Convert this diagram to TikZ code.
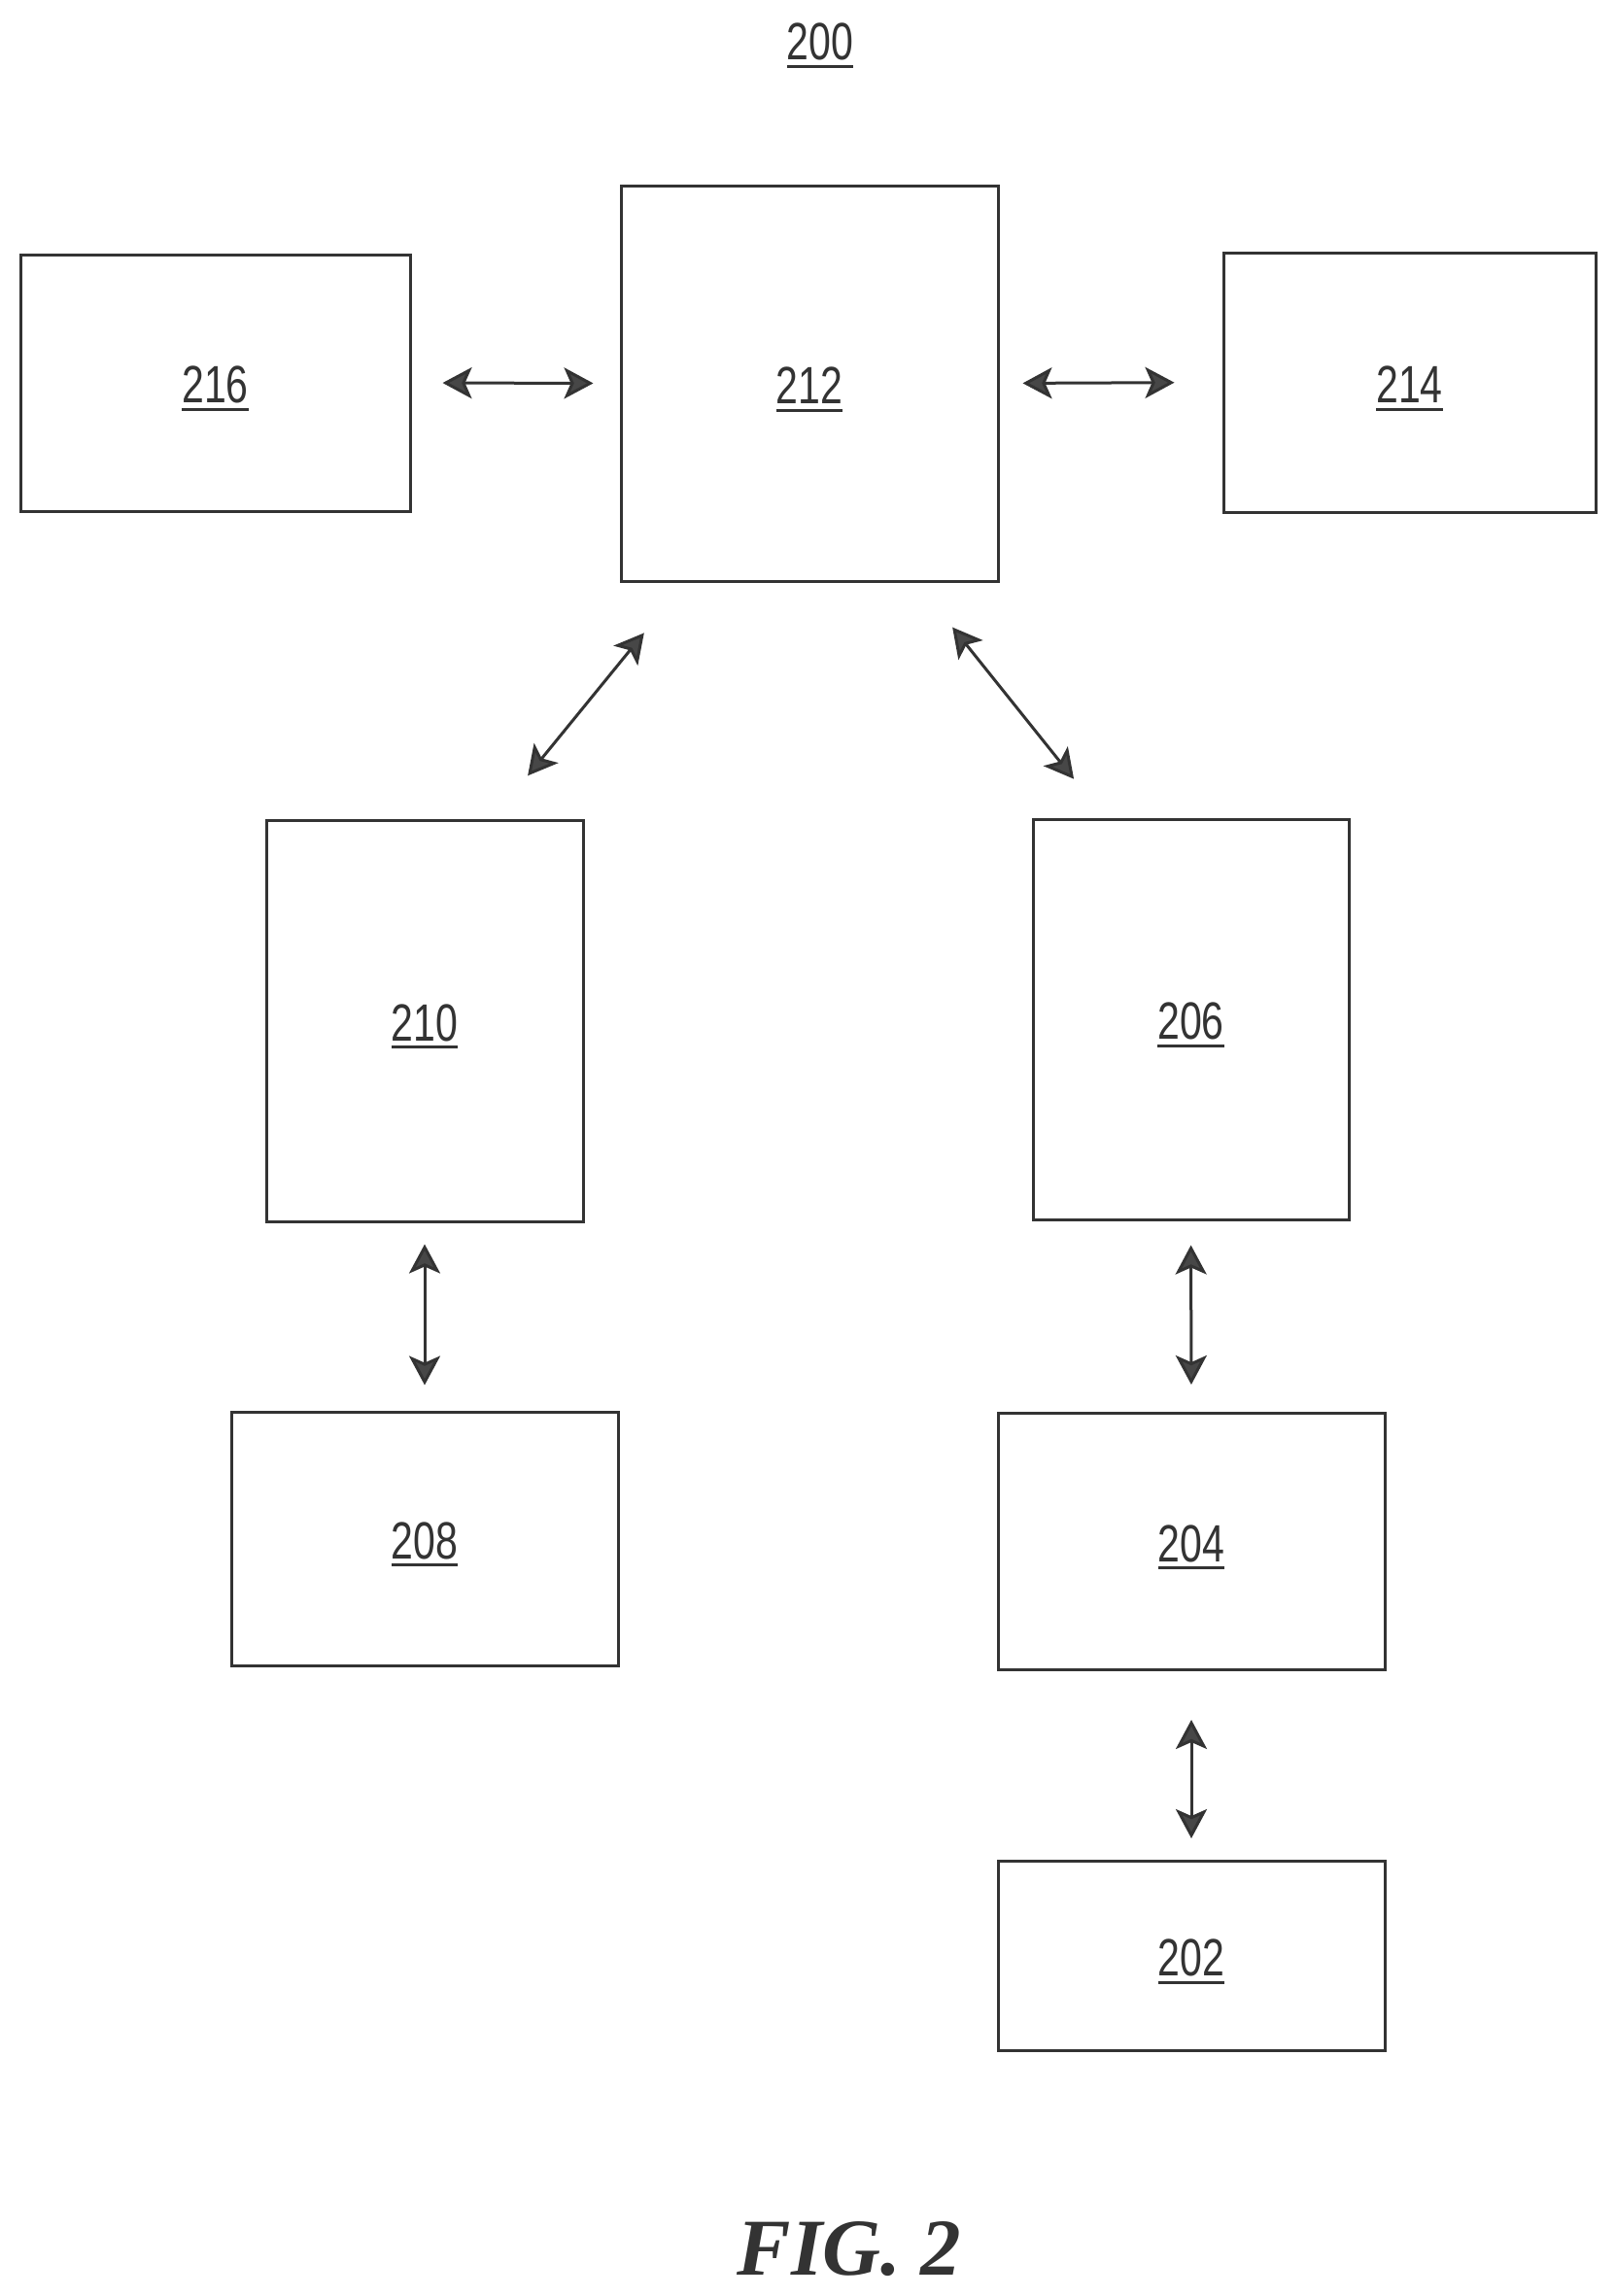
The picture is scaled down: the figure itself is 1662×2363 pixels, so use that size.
\documentclass[tikz,border=0pt]{standalone}
\usepackage{fontspec}
\usetikzlibrary{arrows.meta,calc}
\newfontfamily\lblfont{Liberation Sans}[FakeStretch=0.76]
\newfontfamily\figfont{Liberation Serif}[Scale=1]
\definecolor{ink}{gray}{0.2}
\newsavebox{\lblbox}
\newcommand{\reflabel}[1]{\sbox{\lblbox}{\lblfont\fontsize{54pt}{60pt}\selectfont #1}\hbox{\rule{0pt}{42pt}\rlap{\raisebox{-8pt}[0pt][0pt]{\vrule width \wd\lblbox height 3pt depth 0pt}}\usebox{\lblbox}}}
\tikzset{
  block/.style={draw=ink,line width=3pt,fill=white,inner sep=0pt,text=ink,font=\lblfont},
  link/.style={draw=ink,line width=3pt,{Stealth[length=30pt,width=32pt,inset=7pt,fill=ink!90]}-{Stealth[length=30pt,width=32pt,inset=7pt,fill=ink!90]}},
  x=1pt,y=-1pt
}
\begin{document}
\begin{tikzpicture}
\useasboundingbox (0,0) rectangle (1662,2363);
\fill[white] (0,0) rectangle (1662,2363);
\node[text=ink] (n200) at (844,41) {\reflabel{200}};
\node[block,minimum width=401pt,minimum height=264pt] (n216) at (221.5,394) {\reflabel{216}};
\node[block,minimum width=388pt,minimum height=407pt] (n212) at (833,394.5) {\reflabel{212}};
\node[block,minimum width=383pt,minimum height=267pt] (n214) at (1450.5,393.5) {\reflabel{214}};
\node[block,minimum width=326pt,minimum height=413pt] (n210) at (437,1050.5) {\reflabel{210}};
\node[block,minimum width=325pt,minimum height=412pt] (n206) at (1225.5,1049) {\reflabel{206}};
\node[block,minimum width=398pt,minimum height=261pt] (n208) at (437,1583.5) {\reflabel{208}};
\node[block,minimum width=398pt,minimum height=264pt] (n204) at (1226,1586.5) {\reflabel{204}};
\node[block,minimum width=398pt,minimum height=195pt] (n202) at (1226,2013) {\reflabel{202}};
\node[text=ink,font=\figfont\bfseries\itshape\fontsize{83pt}{90pt}\selectfont] (fig) at (874,2315) {FIG. 2};
\draw[link,shorten <=32pt,shorten >=27pt] (n216.east) -- (n212.west);
\draw[link,shorten <=24pt,shorten >=49pt] (n212.east) -- (n214.west);
\draw[link,shorten <=57pt,shorten >=67pt] ($(n210.north west)!.713!(n210.north east)$) -- ($(n212.south west)!.173!(n212.south east)$);
\draw[link,shorten <=51pt,shorten >=59pt] ($(n206.north west)!.23!(n206.north east)$) -- ($(n212.south west)!.782!(n212.south east)$);
\draw[link,shorten <=22pt,shorten >=26pt] (n210.south) -- (n208.north);
\draw[link,shorten <=25pt,shorten >=28pt] (n206.south) -- (n204.north);
\draw[link,shorten <=50pt,shorten >=22pt] (n204.south) -- (n202.north);
\end{tikzpicture}
\end{document}
